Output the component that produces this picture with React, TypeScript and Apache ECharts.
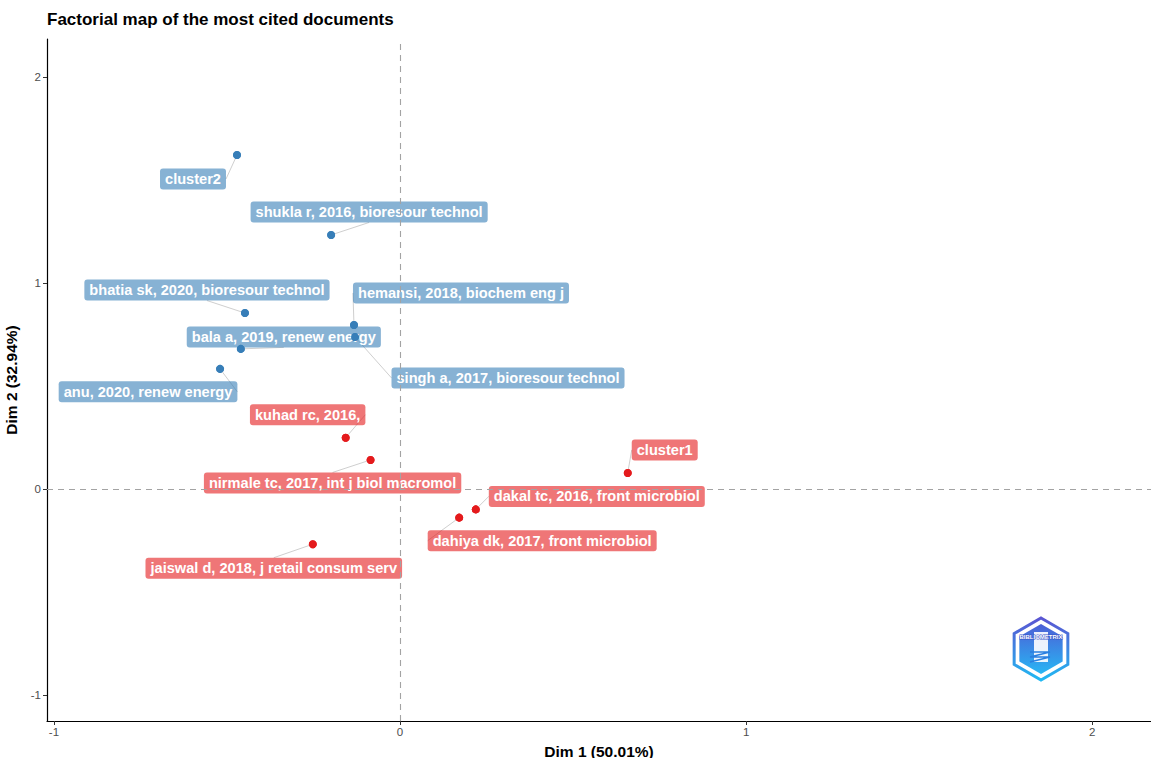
import React, { useEffect, useRef } from "react";
import * as echarts from "echarts";

const docLabels = [
  "cluster2",
  "shukla r, 2016, bioresour technol",
  "bhatia sk, 2020, bioresour technol",
  "hemansi, 2018, biochem eng j",
  "singh a, 2017, bioresour technol",
  "bala a, 2019, renew energy",
  "anu, 2020, renew energy",
  "kuhad rc, 2016,",
  "nirmale tc, 2017, int j biol macromol",
  "cluster1",
  "dakal tc, 2016, front microbiol",
  "dahiya dk, 2017, front microbiol",
  "jaiswal d, 2018, j retail consum serv",
];
const dim1 = [-0.471, -0.199, -0.448, -0.133, -0.13, -0.46, -0.52, -0.157, -0.085, 0.658, 0.219, 0.171, -0.252];
const dim2 = [1.621, 1.233, 0.854, 0.796, 0.738, 0.68, 0.583, 0.249, 0.141, 0.078, -0.099, -0.139, -0.268];
const clusterOf = [2, 2, 2, 2, 2, 2, 2, 1, 1, 1, 1, 1, 1];
const xTicks = [-1, 0, 1, 2];
const yTicks = [-1, 0, 1, 2];

// repel-style label placement (pixel offsets of label centre from point)
const labelOffsets: [number, number][] = [
  [-44, 24], [38, -23], [-38, -23], [107, -32], [153, 41], [43, -12], [-72, 23],
  [-38, -23], [-38, 23], [37, -23], [121, -13], [83, 23], [-39, 24],
];

const pointColor: Record<number, string> = { 1: "#E41A1C", 2: "#377EB8" };
const labelColor: Record<number, string> = { 1: "rgba(228,26,28,0.6)", 2: "rgba(55,126,184,0.6)" };

export default function App() {
  const ref = useRef<HTMLDivElement>(null);
  useEffect(() => {
    if (!ref.current) return;
    const chart = echarts.init(ref.current, null, { renderer: "svg" });
    const font = "'Liberation Sans', Arial, sans-serif";
    const data = docLabels.map((name, i) => ({
      name,
      value: [dim1[i], dim2[i]],
      itemStyle: { color: pointColor[clusterOf[i]], opacity: 1 },
      label: { backgroundColor: labelColor[clusterOf[i]] },
    }));
    const hex = (cx: number, cy: number, r: number) => {
      const pts: number[][] = [];
      for (let k = 0; k < 6; k++) {
        const a = (Math.PI / 3) * k - Math.PI / 2;
        pts.push([cx + r * Math.cos(a), cy + r * Math.sin(a)]);
      }
      return pts;
    };
    chart.setOption({
      animation: false,
      backgroundColor: "#ffffff",
      textStyle: { fontFamily: font },
      title: {
        text: "Factorial map of the most cited documents",
        left: 47,
        top: 11,
        padding: 0,
        textStyle: { fontSize: 17, fontWeight: "bold", color: "#000", fontFamily: font },
      },
      grid: { left: 47, right: 0, top: 39, bottom: 37, containLabel: false, outerBoundsMode: "none" },
      xAxis: {
        type: "value",
        min: -1.02,
        max: 2.17,
        name: "Dim 1 (50.01%)",
        nameLocation: "middle",
        nameGap: 22,
        nameTextStyle: { fontSize: 15.5, fontWeight: "bold", color: "#000", fontFamily: font },
        axisLine: { show: true, onZero: false, lineStyle: { color: "#000", width: 1.2 } },
        axisTick: { show: true, customValues: xTicks, length: 4, lineStyle: { color: "#333" } },
        axisLabel: { customValues: xTicks, color: "#4D4D4D", fontSize: 11.5, margin: 5 },
        splitLine: { show: false },
      },
      yAxis: {
        type: "value",
        min: -1.126,
        max: 2.184,
        name: "Dim 2 (32.94%)",
        nameLocation: "middle",
        nameGap: 22,
        nameRotate: 90,
        nameTextStyle: { fontSize: 15.5, fontWeight: "bold", color: "#000", fontFamily: font },
        axisLine: { show: true, onZero: false, lineStyle: { color: "#000", width: 1.2 } },
        axisTick: { show: true, customValues: yTicks, length: 4, lineStyle: { color: "#333" } },
        axisLabel: { customValues: yTicks, color: "#4D4D4D", fontSize: 11.5, margin: 6 },
        splitLine: { show: false },
      },
      series: [
        {
          type: "scatter",
          data: [],
          z: 1,
          silent: true,
          markLine: {
            silent: true,
            symbol: "none",
            label: { show: false },
            lineStyle: { color: "#A3A3A3", type: [6, 5], width: 1.1 },
            data: [{ xAxis: 0 }, { yAxis: 0 }],
          },
        },
        {
          type: "scatter",
          data,
          z: 2,
          symbolSize: 8,
          itemStyle: { opacity: 1 },
          label: {
            show: true,
            position: "inside",
            formatter: "{b}",
            color: "#fff",
            fontWeight: "bold",
            fontSize: 14.6,
            lineHeight: 15,
            fontFamily: font,
            borderRadius: 3,
            padding: [3, 5, 3, 5],
          },
          labelLine: { show: true, lineStyle: { color: "#CFCFCF", width: 1 } },
          labelLayout: (p: any) => {
            const o = labelOffsets[p.dataIndex];
            return { dx: o[0], dy: o[1] };
          },
        },
        {
          type: "scatter",
          z: 3,
          symbolSize: 8,
          silent: true,
          itemStyle: { opacity: 1 },
          data: docLabels.map((name, i) => ({
            name,
            value: [dim1[i], dim2[i]],
            itemStyle: { color: pointColor[clusterOf[i]], opacity: 1 },
          })),
          label: { show: false },
        },
      ],
      graphic: [
        {
          type: "polygon",
          shape: { points: hex(1041, 649, 31) },
          style: {
            fill: "#ffffff",
            stroke: new echarts.graphic.LinearGradient(0, 0, 0, 1, [
              { offset: 0, color: "#5A55D2" },
              { offset: 1, color: "#21B8F2" },
            ]),
            lineWidth: 3,
          },
        },
        {
          type: "polygon",
          shape: { points: hex(1041, 649, 25) },
          style: {
            fill: new echarts.graphic.LinearGradient(0, 0, 0, 1, [
              { offset: 0, color: "#4C5FD6" },
              { offset: 1, color: "#28B6F4" },
            ]),
          },
        },
        {
          type: "rect",
          shape: { x: 1034, y: 632, width: 14, height: 30 },
          style: { fill: "#ffffff", opacity: 0.9 },
        },
        {
          type: "polyline",
          shape: { points: [[1030, 652], [1050, 652], [1030, 657], [1050, 657], [1030, 662]] },
          style: { stroke: "#2A7FE0", lineWidth: 1.5, fill: "none" },
        },
        {
          type: "text",
          x: 1041,
          y: 637,
          style: {
            text: "BIBLIOMETRIX",
            fill: "#ffffff",
            fontSize: 6,
            fontWeight: "bold",
            align: "center",
            verticalAlign: "middle",
            stroke: "#3B56C8",
            lineWidth: 1,
          },
        },
      ],
    });
    return () => chart.dispose();
  }, []);
  return (
    <div
      ref={ref}
      style={{ position: "fixed", left: 0, top: 0, width: 1151, height: 758 }}
    />
  );
}
